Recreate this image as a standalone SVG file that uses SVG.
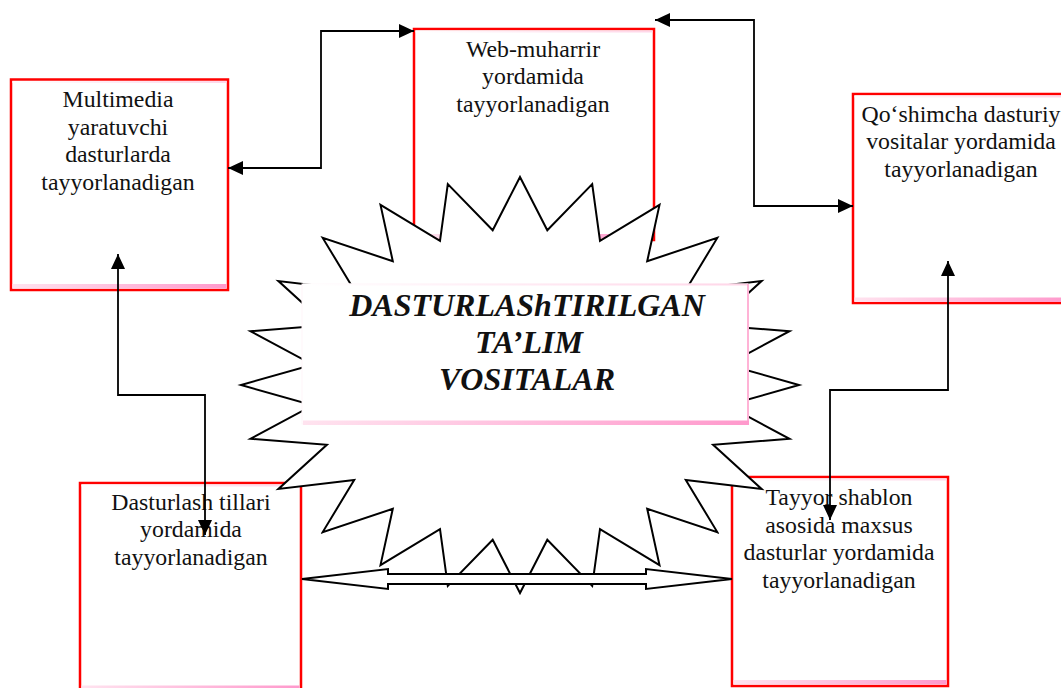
<svg xmlns="http://www.w3.org/2000/svg" width="1061" height="688" viewBox="0 0 1061 688">
  <defs>
    <linearGradient id="pinkbar" x1="0" y1="0" x2="1" y2="0">
      <stop offset="0" stop-color="#ffe3ef"/>
      <stop offset="1" stop-color="#ff99cc"/>
    </linearGradient>
    <linearGradient id="pinktop" x1="0" y1="0" x2="1" y2="0">
      <stop offset="0" stop-color="#ffffff"/>
      <stop offset="1" stop-color="#ffd6e8"/>
    </linearGradient>
    <marker id="ah" markerUnits="userSpaceOnUse" markerWidth="16" markerHeight="15" refX="15" refY="7" orient="auto-start-reverse">
      <path d="M0,0 L15,7 L0,14 z" fill="#000"/>
    </marker>
    <style>
      .box { fill: #ffffff; stroke: #ff0000; stroke-width: 2.5; }
      .bar { fill: url(#pinkbar); }
      .topbar { fill: url(#pinktop); }
      .txt { font-family: "Liberation Serif", "Times New Roman", serif; font-size: 23.8px; fill: #111; text-anchor: middle; }
      .title { font-family: "Liberation Serif", "Times New Roman", serif; font-size: 32px; font-weight: bold; font-style: italic; fill: #111; text-anchor: middle; }
      .conn { fill: none; stroke: #000; stroke-width: 1.8; }
      .star { fill: #ffffff; stroke: #000; stroke-width: 2; stroke-linejoin: miter; }
      .block { fill: #ffffff; stroke: #000; stroke-width: 2; }
    </style>
  </defs>

  <g id="node-multimedia">
    <rect class="box" x="11" y="79.5" width="217" height="210.5"/>
    <rect class="topbar" x="12.5" y="81" width="214" height="2"/>
    <rect class="bar" x="12.5" y="284" width="214" height="4.5"/>
    <text class="txt" x="118" y="107">Multimedia</text>
    <text class="txt" x="118" y="134.5">yaratuvchi</text>
    <text class="txt" x="118" y="162">dasturlarda</text>
    <text class="txt" x="118" y="189.5">tayyorlanadigan</text>
  </g>

  <g id="node-web">
    <rect class="box" x="414" y="29" width="240" height="211"/>
    <rect class="topbar" x="415.5" y="30.5" width="237" height="2"/>
    <rect class="bar" x="415.5" y="234" width="237" height="4.5"/>
    <text class="txt" x="533" y="57">Web-muharrir</text>
    <text class="txt" x="533" y="84">yordamida</text>
    <text class="txt" x="533" y="111.5">tayyorlanadigan</text>
  </g>

  <g id="node-qoshimcha">
    <rect class="box" x="853" y="94" width="216" height="209"/>
    <rect class="topbar" x="854.5" y="95.5" width="213" height="2"/>
    <rect class="bar" x="854.5" y="297.5" width="213" height="4.5"/>
    <text class="txt" x="961" y="121.5">Qo‘shimcha dasturiy</text>
    <text class="txt" x="961" y="149">vositalar yordamida</text>
    <text class="txt" x="961" y="176.5">tayyorlanadigan</text>
  </g>

  <g id="node-dasturlash">
    <rect class="box" x="80" y="483" width="221" height="209"/>
    <rect class="topbar" x="81.5" y="484.5" width="218" height="2"/>
    <rect class="bar" x="81.5" y="685.5" width="218" height="4.5"/>
    <text class="txt" x="191" y="510">Dasturlash tillari</text>
    <text class="txt" x="191" y="537">yordamida</text>
    <text class="txt" x="191" y="564.5">tayyorlanadigan</text>
  </g>

  <g id="node-tayyor">
    <rect class="box" x="732" y="477" width="216" height="209"/>
    <rect class="topbar" x="733.5" y="478.5" width="213" height="2"/>
    <rect class="bar" x="733.5" y="680" width="213" height="4.5"/>
    <text class="txt" x="839" y="505">Tayyor shablon</text>
    <text class="txt" x="839" y="532.5">asosida maxsus</text>
    <text class="txt" x="839" y="560">dasturlar yordamida</text>
    <text class="txt" x="839" y="587.5">tayyorlanadigan</text>
  </g>

  <g id="node-center">
    <polygon class="star" points="520,177 547.3,230.3 592.2,184.1 600,240.9 659.5,204.9 647.2,261.2 717.3,237.9 685.8,290 761.6,281 713.1,325.3 789.5,331.2 727.2,364.6 799,385 727.2,405.4 789.5,438.8 713.1,444.7 761.6,489 685.8,480 717.3,532.1 647.2,508.8 659.5,565.1 600,529.1 592.2,585.9 547.3,539.7 520,593 492.7,539.7 447.8,585.9 440,529.1 380.5,565.1 392.8,508.8 322.7,532.1 354.2,480 278.4,489 326.9,444.7 250.5,438.8 312.8,405.4 241,385 312.8,364.6 250.5,331.2 326.9,325.3 278.4,281 354.2,290 322.7,237.9 392.8,261.2 380.5,204.9 440,240.9 447.8,184.1 492.7,230.3"/>
    <rect x="302" y="284" width="446" height="140" fill="#ffffff" stroke="#fff5f9" stroke-width="1"/>
    <rect x="303" y="283.5" width="445" height="2" fill="url(#pinktop)"/>
    <rect x="747" y="284" width="2" height="141" fill="#ffb3d6"/>
    <rect x="303" y="420.5" width="446" height="4.5" fill="url(#pinkbar)"/>
    <text class="title" x="527" y="316">DASTURLAShTIRILGAN</text>
    <text class="title" x="529" y="353">TA’LIM</text>
    <text class="title" x="527" y="390">VOSITALAR</text>
  </g>

  <g id="connectors">
    <polygon class="block" points="302,579 388,569 388,574 646,574 646,569 732,579 646,589 646,584 388,584 388,589"/>
    <path class="conn" d="M228,168 H321 V31 H414" marker-start="url(#ah)" marker-end="url(#ah)"/>
    <path class="conn" d="M655,20 H754 V206 H853" marker-start="url(#ah)" marker-end="url(#ah)"/>
    <path class="conn" d="M118,254 V395 H205 V535" marker-start="url(#ah)" marker-end="url(#ah)"/>
    <path class="conn" d="M948,261 V390 H830 V520" marker-start="url(#ah)" marker-end="url(#ah)"/>
  </g>
</svg>
